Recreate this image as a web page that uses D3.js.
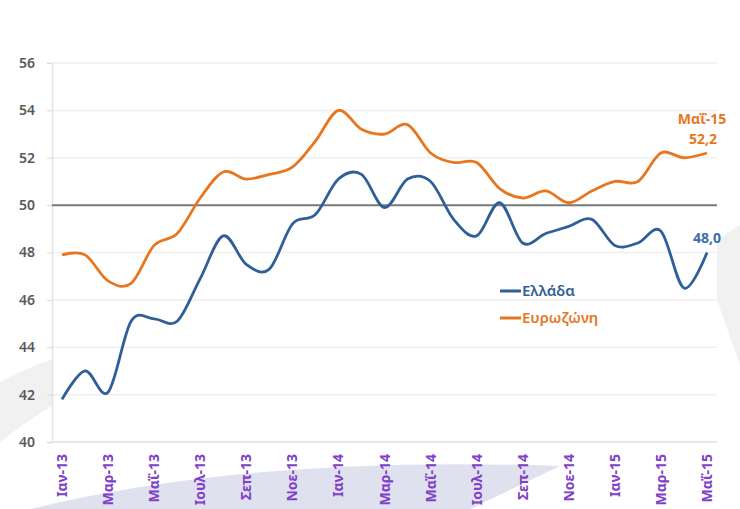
<!DOCTYPE html>
<html>
<head>
<meta charset="utf-8">
<script src="https://d3js.org/d3.v7.min.js"></script>
<style>
    body { margin: 0; background: #fff; }
    svg { display: block; font-family: "Noto Sans", "Open Sans", sans-serif; }
</style>
</head>
<body>
<div id="chart"></div>
<script>
    // monthly PMI, Jan-13 .. May-15
    var months = ['Ιαν-13','Φεβ-13','Μαρ-13','Απρ-13','Μαΐ-13','Ιουν-13','Ιουλ-13','Αυγ-13','Σεπ-13','Οκτ-13','Νοε-13','Δεκ-13',
                  'Ιαν-14','Φεβ-14','Μαρ-14','Απρ-14','Μαΐ-14','Ιουν-14','Ιουλ-14','Αυγ-14','Σεπ-14','Οκτ-14','Νοε-14','Δεκ-14',
                  'Ιαν-15','Φεβ-15','Μαρ-15','Απρ-15','Μαΐ-15'];
    var greece = [41.8,43.0,42.1,45.1,45.2,45.1,46.9,48.7,47.5,47.3,49.2,49.6,
                  51.1,51.3,49.9,51.1,51.0,49.4,48.7,50.1,48.4,48.8,49.1,49.4,
                  48.3,48.4,48.9,46.5,48.0];
    var eurozone = [47.9,47.9,46.8,46.7,48.3,48.8,50.3,51.4,51.1,51.3,51.6,52.7,
                    54.0,53.2,53.0,53.4,52.2,51.8,51.8,50.7,50.3,50.6,50.1,50.6,
                    51.0,51.0,52.2,52.0,52.2];
    var yTicks = [40,42,44,46,48,50,52,54,56];
    var xTickLabels = months.filter(function(d,i){ return i % 2 === 0; });

    var width = 740, height = 509;
    var plotLeft = 52, plotRight = 717, plotTop = 63, plotBottom = 442;

    var svg = d3.select('#chart').append('svg')
        .attr('width', width)
        .attr('height', height);

    // faint background shapes
    svg.append('path')
        .attr('d', 'M0,382 Q60,350 160,330 L170,345 Q80,380 0,442 Z')
        .attr('fill', '#f1f1f1');
    svg.append('path')
        .attr('d', 'M717,240 L740,225 L740,365 L717,300 Z')
        .attr('fill', '#f1f1f1');
    svg.append('path')
        .attr('d', 'M30,509 Q250,455 560,466 L470,509 Z')
        .attr('fill', '#dfe1ef');

    // plot area
    svg.append('rect')
        .attr('x', plotLeft).attr('y', 55)
        .attr('width', plotRight - plotLeft)
        .attr('height', plotBottom - 55)
        .attr('fill', '#fff');

    var x = d3.scalePoint()
        .domain(months)
        .range([62, 707]);

    var y = d3.scaleLinear()
        .domain([40, 56])
        .range([plotBottom, plotTop]);

    // gridlines
    svg.append('g').selectAll('line')
        .data(yTicks)
        .enter().append('line')
            .attr('x1', plotLeft).attr('x2', plotRight)
            .attr('y1', function(d){ return y(d); })
            .attr('y2', function(d){ return y(d); })
            .attr('stroke', '#efefef')
            .attr('stroke-width', 1.5);

    // y axis
    var yAxis = svg.append('g')
        .attr('transform', 'translate(' + plotLeft + ',0)')
        .call(d3.axisLeft(y).tickValues(yTicks).tickSize(5).tickPadding(12));
    yAxis.select('.domain').attr('stroke', '#e3e3e3').attr('stroke-width', 1.5);
    yAxis.selectAll('.tick line').attr('stroke', '#d9d9d9');
    yAxis.selectAll('.tick text')
        .attr('fill', '#595959')
        .style('font-size', '14px')
        .style('font-weight', '600')
        .style('font-family', '"Noto Sans", sans-serif');

    // bottom axis line
    svg.append('line')
        .attr('x1', plotLeft).attr('x2', plotRight)
        .attr('y1', plotBottom).attr('y2', plotBottom)
        .attr('stroke', '#e3e3e3')
        .attr('stroke-width', 1.5);

    // x tick labels
    svg.append('g').selectAll('text')
        .data(xTickLabels)
        .enter().append('text')
            .attr('transform', function(d){ return 'translate(' + (x(d) + 5) + ',454) rotate(-90)'; })
            .attr('text-anchor', 'end')
            .attr('fill', '#8040c8')
            .style('font-size', '14px')
            .style('font-weight', 'bold')
            .text(function(d){ return d; });

    // reference line at 50
    svg.append('line')
        .attr('x1', plotLeft).attr('x2', plotRight)
        .attr('y1', y(50)).attr('y2', y(50))
        .attr('stroke', '#7a7a7a')
        .attr('stroke-width', 2);

    var line = d3.line()
        .x(function(d,i){ return x(months[i]); })
        .y(function(d){ return y(d); })
        .curve(d3.curveCardinal.tension(0));

    svg.append('path')
        .datum(eurozone)
        .attr('d', line)
        .attr('fill', 'none')
        .attr('stroke', '#e8761f')
        .attr('stroke-width', 2.8);

    svg.append('path')
        .datum(greece)
        .attr('d', line)
        .attr('fill', 'none')
        .attr('stroke', '#2f5f98')
        .attr('stroke-width', 2.8);

    // end labels
    var last = months.length - 1;
    svg.append('text')
        .attr('x', x(months[last]) - 5).attr('y', 124)
        .attr('text-anchor', 'middle')
        .attr('fill', '#e8761f')
        .style('font-size', '14px').style('font-weight', 'bold')
        .text(months[last]);
    svg.append('text')
        .attr('x', x(months[last]) - 4).attr('y', 144)
        .attr('text-anchor', 'middle')
        .attr('fill', '#e8761f')
        .style('font-size', '14px').style('font-weight', 'bold')
        .text(eurozone[last].toFixed(1).replace('.', ','));
    svg.append('text')
        .attr('x', x(months[last])).attr('y', 243)
        .attr('text-anchor', 'middle')
        .attr('fill', '#3c6db0')
        .style('font-size', '14px').style('font-weight', 'bold')
        .text(greece[last].toFixed(1).replace('.', ','));

    // legend
    var legend = [
        {name: 'Ελλάδα', color: '#2f5f98', y: 291},
        {name: 'Ευρωζώνη', color: '#e8761f', y: 318}
    ];
    var lg = svg.append('g').selectAll('g')
        .data(legend)
        .enter().append('g');
    lg.append('line')
        .attr('x1', 500).attr('x2', 521)
        .attr('y1', function(d){ return d.y; })
        .attr('y2', function(d){ return d.y; })
        .attr('stroke', function(d){ return d.color; })
        .attr('stroke-width', 3);
    lg.append('text')
        .attr('x', 522)
        .attr('y', function(d){ return d.y + 5; })
        .attr('fill', function(d){ return d.color; })
        .style('font-size', '15px')
        .style('font-weight', '600')
        .text(function(d){ return d.name; });
</script>
</body>
</html>
